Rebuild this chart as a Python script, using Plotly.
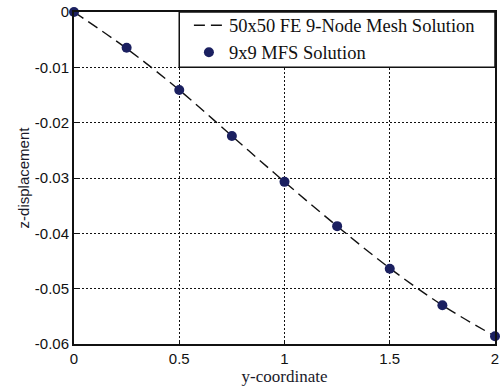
import plotly.graph_objects as go

# y-coordinate stations along the line
y_coord = [0.0, 0.25, 0.5, 0.75, 1.0, 1.25, 1.5, 1.75, 2.0]

# 50x50 FE 9-node mesh solution (z-displacement)
fe_disp = [0.0, -0.0066, -0.0141, -0.0224, -0.0307, -0.0387, -0.0463, -0.0530, -0.0586]

# 9x9 MFS solution (z-displacement)
mfs_disp = [0.0, -0.00645, -0.0141, -0.0224, -0.0307, -0.0387, -0.0464, -0.0530, -0.0586]

x_ticks = [0, 0.5, 1, 1.5, 2]
x_tick_text = ["0", "0.5", "1", "1.5", "2"]
y_ticks = [0, -0.01, -0.02, -0.03, -0.04, -0.05, -0.06]
y_tick_text = ["0", "-0.01", "-0.02", "-0.03", "-0.04", "-0.05", "-0.06"]

fig = go.Figure()

fig.add_trace(go.Scatter(
    x=y_coord, y=fe_disp, mode="lines", line_shape="spline",
    name="50x50 FE 9-Node Mesh Solution",
    line=dict(color="#111111", width=1.4, dash="11px,6px"),
))

fig.add_trace(go.Scatter(
    x=y_coord, y=mfs_disp, mode="markers",
    name="9x9 MFS Solution",
    marker=dict(color="#1b2060", size=10),
    cliponaxis=False,
))

# legend frame
fig.add_shape(type="rect", xref="x", yref="y", x0=0.5, x1=2.0, y0=-0.01, y1=0.0,
              fillcolor="white", line=dict(color="#111111", width=1.5), layer="above")

axis_common = dict(
    showline=True, linecolor="#111111", linewidth=2, mirror=True,
    showgrid=True, gridcolor="#111111", gridwidth=1.2, griddash="2px,2px",
    ticks="inside", ticklen=4, tickcolor="#111111",
    zeroline=False, ticklabeloverflow="allow",
    tickfont=dict(family="Liberation Sans", size=15, color="#111111"),
)

fig.update_xaxes(range=[0, 2], tickvals=x_ticks, ticktext=x_tick_text,
                 title=dict(text="y-coordinate", standoff=4,
                            font=dict(family="Liberation Serif", size=17, color="#1a1a2a")),
                 **axis_common)
fig.update_yaxes(range=[-0.06, 0], tickvals=y_ticks, ticktext=y_tick_text,
                 title=dict(text="z-displacement", standoff=2,
                            font=dict(family="Liberation Sans", size=15, color="#1a1a2a")),
                 **axis_common)

fig.update_layout(
    width=500, height=388,
    margin=dict(l=74, r=1, t=12, b=44),
    paper_bgcolor="white", plot_bgcolor="white",
    showlegend=True,
    legend=dict(x=(190 - 74) / 425, y=1.016, xanchor="left", yanchor="top",
                bgcolor="rgba(0,0,0,0)", borderwidth=0,
                font=dict(family="Liberation Serif", size=18.5, color="#111111"),
                tracegroupgap=0),
)

fig.write_html("out.html")
